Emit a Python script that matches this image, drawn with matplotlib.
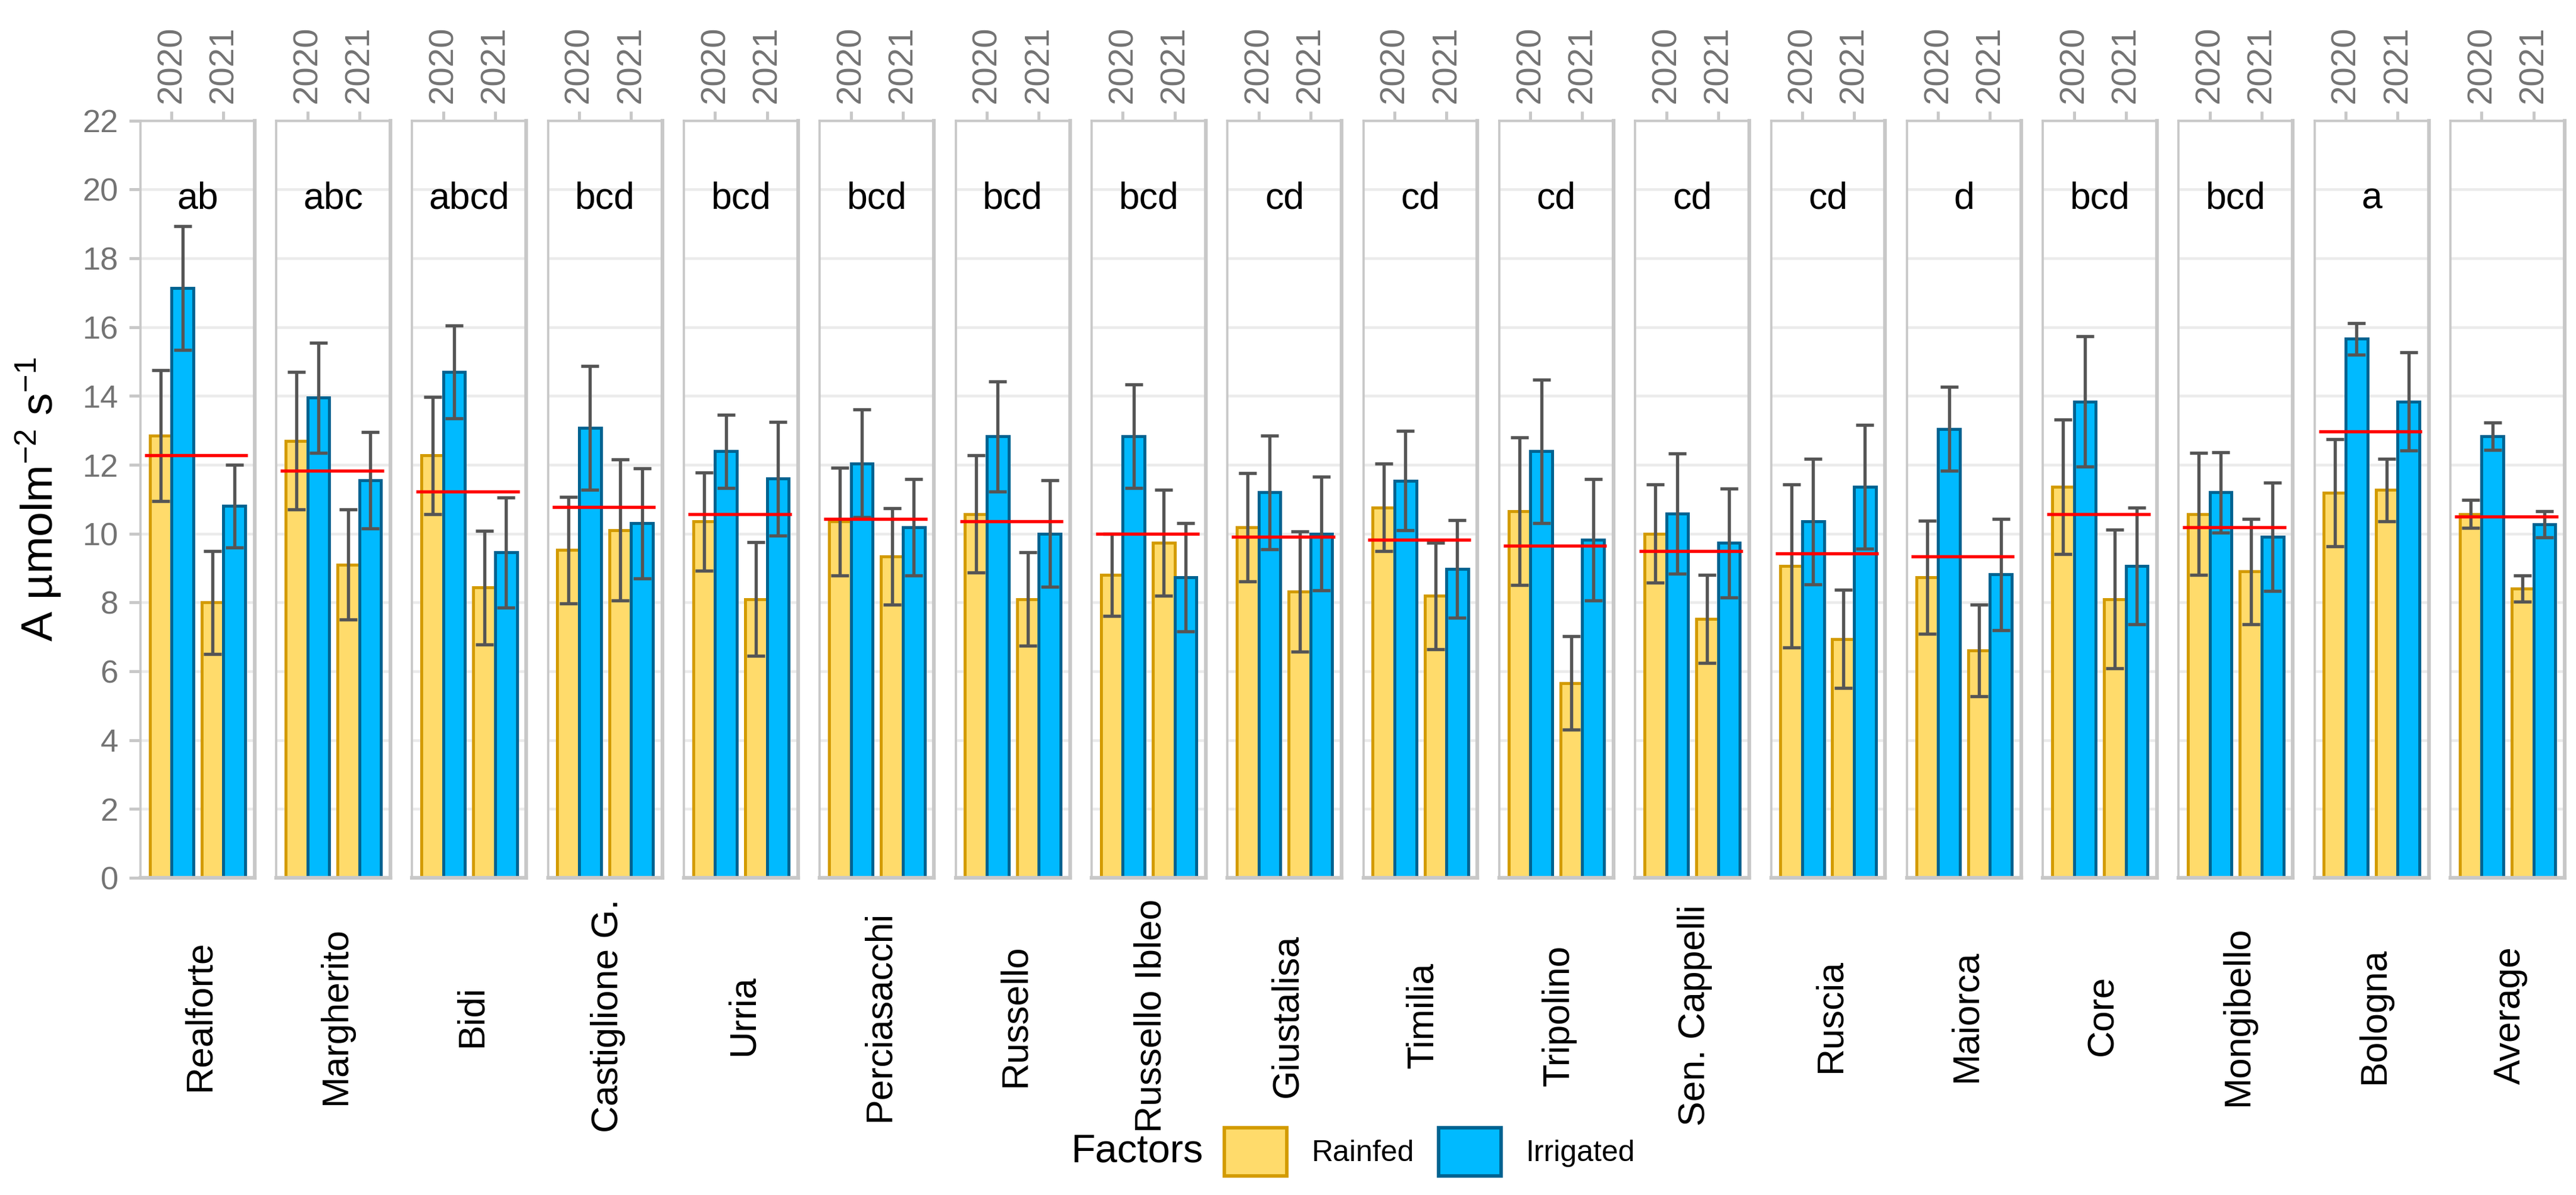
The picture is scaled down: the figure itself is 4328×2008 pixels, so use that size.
import matplotlib
matplotlib.use("Agg")
import matplotlib.pyplot as plt
import matplotlib.transforms as mtransforms
from matplotlib.patches import Patch

plt.rcParams['font.family'] = ['Liberation Sans', 'DejaVu Sans']
plt.rcParams['mathtext.fontset'] = 'custom'
plt.rcParams['mathtext.rm'] = 'Liberation Sans'
plt.rcParams['mathtext.it'] = 'Liberation Sans:italic'
plt.rcParams['mathtext.bf'] = 'Liberation Sans:bold'

# ---------------- data ----------------
varieties = ["Realforte", "Margherito", "Bidi", "Castiglione G.", "Urria", "Perciasacchi",
             "Russello", "Russello Ibleo", "Giustalisa", "Timilia", "Tripolino",
             "Sen. Cappelli", "Ruscia", "Maiorca", "Core", "Mongibello", "Bologna", "Average"]
letters = ["ab", "abc", "abcd", "bcd", "bcd", "bcd", "bcd", "bcd", "cd", "cd", "cd",
           "cd", "cd", "d", "bcd", "bcd", "a", ""]
years = ["2020", "2021"]
factors = ["Rainfed", "Irrigated"]

rain_2020 = [12.85, 12.70, 12.27, 9.52, 10.35, 10.35, 10.57, 8.80, 10.18, 10.76, 10.65,
             10.00, 9.06, 8.73, 11.36, 10.57, 11.19, 10.57]
rain_2020_err = [1.90, 2.00, 1.70, 1.55, 1.42, 1.57, 1.70, 1.20, 1.57, 1.27, 2.14,
                 1.43, 2.37, 1.64, 1.95, 1.77, 1.56, 0.41]
irr_2020 = [17.13, 13.95, 14.70, 13.07, 12.39, 12.04, 12.83, 12.83, 11.20, 11.54, 12.39,
            10.58, 10.35, 13.04, 13.84, 11.20, 15.66, 12.83]
irr_2020_err = [1.80, 1.60, 1.35, 1.80, 1.06, 1.57, 1.60, 1.50, 1.65, 1.44, 2.08,
                1.75, 1.83, 1.22, 1.90, 1.17, 0.46, 0.39]
rain_2021 = [8.00, 9.10, 8.43, 10.10, 8.10, 9.33, 8.10, 9.73, 8.32, 8.19, 5.66,
             7.52, 6.94, 6.60, 8.10, 8.90, 11.27, 8.41]
rain_2021_err = [1.50, 1.60, 1.65, 2.05, 1.65, 1.40, 1.36, 1.54, 1.75, 1.55, 1.36,
                 1.28, 1.42, 1.33, 2.02, 1.53, 0.91, 0.38]
irr_2021 = [10.80, 11.55, 9.45, 10.30, 11.60, 10.18, 10.00, 8.73, 10.00, 8.97, 9.82,
            9.73, 11.36, 8.81, 9.06, 9.91, 13.84, 10.27]
irr_2021_err = [1.20, 1.40, 1.60, 1.60, 1.65, 1.40, 1.55, 1.58, 1.65, 1.42, 1.77,
                1.58, 1.80, 1.62, 1.70, 1.57, 1.43, 0.38]
panel_mean = [12.27, 11.83, 11.22, 10.78, 10.57, 10.42, 10.35, 10.00, 9.91, 9.82, 9.65,
              9.50, 9.42, 9.33, 10.57, 10.18, 12.97, 10.50]

# ---------------- style ----------------
rain_fill, rain_edge = "#FFDB6B", "#D39B00"
irr_fill, irr_edge = "#00BAFF", "#006391"
grid_col = "#EBEBEB"
border_col = "#C8C8C8"
tick_text_col = "#737373"
err_col = "#555555"

fig = plt.figure(figsize=(4328 / 300, 2008 / 300), dpi=300)
axes = fig.subplots(1, len(varieties), sharey=True,
                    gridspec_kw=dict(wspace=0.19))
TOP, BOTTOM = 0.899, 0.2655
fig.subplots_adjust(left=0.0545, right=0.9956, top=TOP, bottom=BOTTOM)

bw = 0.42
for i, ax in enumerate(axes):
    ax.set_xlim(0.4, 2.6)
    ax.set_ylim(0, 22)
    ax.set_yticks(range(0, 23, 2))
    ax.yaxis.grid(True, color=grid_col, linewidth=1.1, zorder=0)
    ax.xaxis.grid(False)
    ax.set_axisbelow(True)

    xs = [1, 2]
    r_vals = [rain_2020[i], rain_2021[i]]
    r_err = [rain_2020_err[i], rain_2021_err[i]]
    g_vals = [irr_2020[i], irr_2021[i]]
    g_err = [irr_2020_err[i], irr_2021_err[i]]
    rx = [x - bw / 2 for x in xs]
    gx = [x + bw / 2 for x in xs]
    ax.bar(rx, r_vals, width=bw, color=rain_fill, edgecolor=rain_edge, linewidth=1.2, zorder=2)
    ax.bar(gx, g_vals, width=bw, color=irr_fill, edgecolor=irr_edge, linewidth=1.2, zorder=2)
    ax.errorbar(rx, r_vals, yerr=r_err, fmt='none', ecolor=err_col, elinewidth=1.3,
                capsize=3.7, capthick=1.3, zorder=3)
    ax.errorbar(gx, g_vals, yerr=g_err, fmt='none', ecolor=err_col, elinewidth=1.3,
                capsize=3.7, capthick=1.3, zorder=3)
    ax.hlines(panel_mean[i], 0.48, 2.47, color="#FF0000", linewidth=1.3, zorder=4)

    if letters[i]:
        ax.text(1.5, 19.45, letters[i], ha='center', va='baseline', fontsize=15,
                color='black', zorder=5)

    trans = mtransforms.blended_transform_factory(ax.transData, ax.transAxes)
    ax.text(1.55, -0.182, varieties[i], transform=trans, rotation=90, ha='center',
            va='center', fontsize=15, color='black')

    # top year ticks
    ax.xaxis.set_ticks_position('top')
    ax.set_xticks(xs)
    ax.set_xticklabels(years, rotation=90, fontsize=14, color=tick_text_col)
    ax.tick_params(axis='x', which='both', top=True, bottom=False, length=3.8, width=1.2,
                   color=border_col, pad=3.1)

    for side in ['left', 'top']:
        ax.spines[side].set_color(border_col)
        ax.spines[side].set_linewidth(0.9)
    for side in ['right', 'bottom']:
        ax.spines[side].set_color(border_col)
        ax.spines[side].set_linewidth(1.5)

    if i == 0:
        ax.tick_params(axis='y', length=4.6, width=1.2, color=border_col, pad=4.3,
                       labelsize=13, labelcolor=tick_text_col)
    else:
        ax.tick_params(axis='y', left=False, labelleft=False)

fig.text(0.0148, (TOP + BOTTOM) / 2, r'A µmolm$^{-2}$ s$^{-1}$', rotation=90,
         ha='center', va='center', fontsize=18, color='black')

handles = [Patch(facecolor=rain_fill, edgecolor=rain_edge, linewidth=1.4, label=factors[0]),
           Patch(facecolor=irr_fill, edgecolor=irr_edge, linewidth=1.4, label=factors[1])]
fig.legend(handles=handles, loc='center', bbox_to_anchor=(0.555, 0.036), ncol=2,
           frameon=False, fontsize=12, handlelength=2.1, handleheight=2.1,
           handletextpad=0.84, columnspacing=0.8, borderpad=0.0)
fig.text(0.467, 0.036, "Factors", ha='right', va='center', fontsize=16, color='black')

fig.savefig("out.png", dpi=300)
